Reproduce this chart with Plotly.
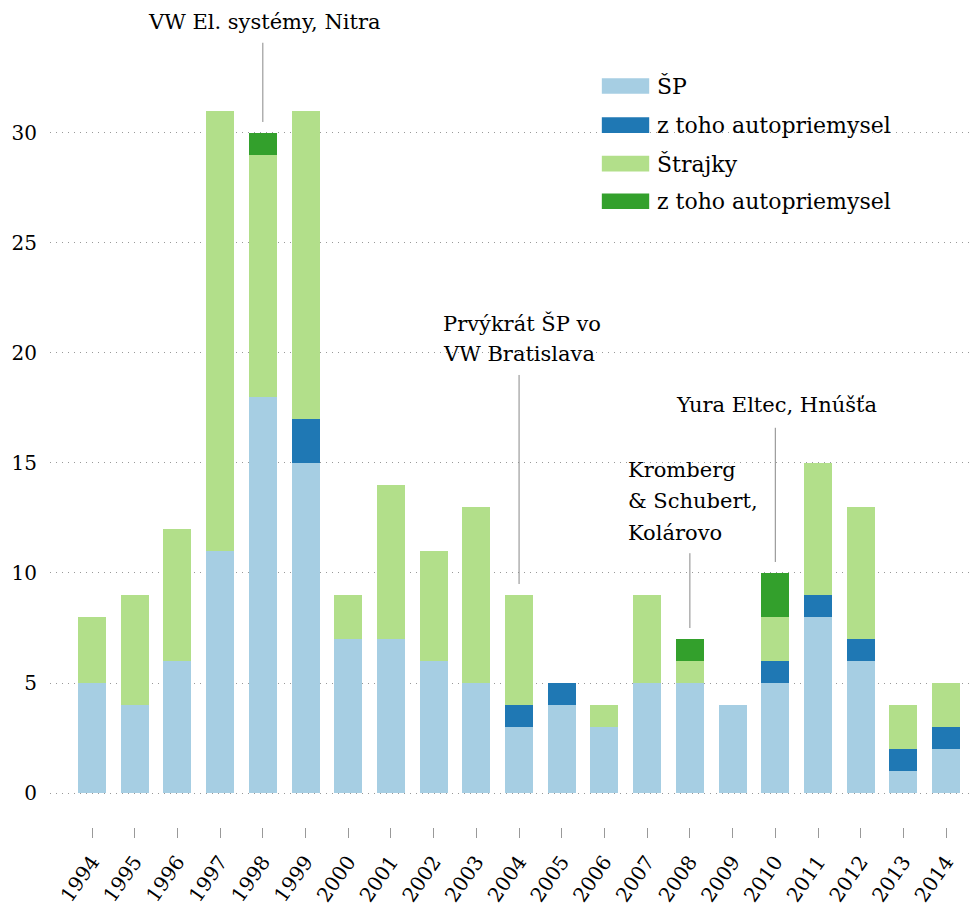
import plotly.graph_objects as go

years = list(range(1994, 2015))
sp = [5, 4, 6, 11, 18, 15, 7, 7, 6, 5, 3, 4, 3, 5, 5, 4, 5, 8, 6, 1, 2]
sp_auto = [0, 0, 0, 0, 0, 2, 0, 0, 0, 0, 1, 1, 0, 0, 0, 0, 1, 1, 1, 1, 1]
strikes = [3, 5, 6, 20, 11, 14, 2, 7, 5, 8, 5, 0, 1, 4, 1, 0, 2, 6, 6, 2, 2]
strikes_auto = [0, 0, 0, 0, 1, 0, 0, 0, 0, 0, 0, 0, 0, 0, 1, 0, 2, 0, 0, 0, 0]

series_names = ["ŠP", "z toho autopriemysel", "Štrajky", "z toho autopriemysel"]
series_colors = ["#a6cee3", "#1f78b4", "#b2df8a", "#33a02c"]

# callouts: year the line points at, text lines, text x, first line y, line top, anchor
notes = [
    (1998, ["VW El. systémy, Nitra"], 1998.03, 35.05, 34.1, "center"),
    (2004, ["Prvýkrát ŠP vo", "VW Bratislava"], 2002.18, 21.36, 19.0, "left"),
    (2008, ["Kromberg", "&amp; Schubert,", "Kolárovo"], 2006.51, 14.68, 10.9, "left"),
    (2010, ["Yura Eltec, Hnúšťa"], 2010.02, 17.64, 16.6, "center"),
]
LINE_STEP = 1.42  # ~31px between text lines

FONT = "DejaVu Serif"

fig = go.Figure()
for vals, name, col in zip([sp, sp_auto, strikes, strikes_auto], series_names, series_colors):
    fig.add_trace(go.Bar(x=years, y=vals, name=name, marker_color=col,
                         marker_line_width=0, showlegend=False))

totals = [a + b + c + d for a, b, c, d in zip(sp, sp_auto, strikes, strikes_auto)]
for yr, lines, tx, ty, ltop, anchor in notes:
    top = totals[years.index(yr)]
    fig.add_shape(type="line", x0=yr, x1=yr, y0=top + 0.5, y1=ltop,
                  line=dict(color="#888", width=1))
    for i, ln in enumerate(lines):
        fig.add_annotation(x=tx, y=ty - i * LINE_STEP, text=ln, showarrow=False,
                           xanchor=anchor, yanchor="middle",
                           font=dict(size=21, color="#000"))

# legend with wide swatches
leg_y = [0.9048, 0.857, 0.810, 0.764]
for yy, name, col in zip(leg_y, series_names, series_colors):
    fig.add_shape(type="rect", xref="paper", yref="paper",
                  x0=0.594, x1=0.645, y0=yy - 0.0095, y1=yy + 0.0095,
                  fillcolor=col, line_width=0)
    fig.add_annotation(xref="paper", yref="paper", x=0.651, y=yy, text=name,
                       showarrow=False, xanchor="left", yanchor="middle",
                       font=dict(size=22, color="#000"))

fig.update_layout(
    width=971, height=900,
    margin=dict(l=42, r=0, t=0, b=81),
    barmode="stack", bargap=0.344,
    plot_bgcolor="white", paper_bgcolor="white",
    font=dict(family=FONT, size=18, color="#000"),
    xaxis=dict(range=[1993.016, 2014.77], tickvals=years, ticktext=[str(y) for y in years],
               tickangle=-55, ticks="outside", ticklen=10, tickcolor="#999",
               ticklabelstandoff=4,
               showgrid=False, zeroline=False, showline=False, tickfont=dict(size=20)),
    yaxis=dict(range=[-1.545, 35.68], tickvals=[0, 5, 10, 15, 20, 25, 30],
               showgrid=True, gridcolor="#999", griddash="1px,5px", gridwidth=1,
               zeroline=False, showline=False, ticks="", ticklabelstandoff=12,
               tickfont=dict(size=20)),
)

fig.write_html("out.html")
